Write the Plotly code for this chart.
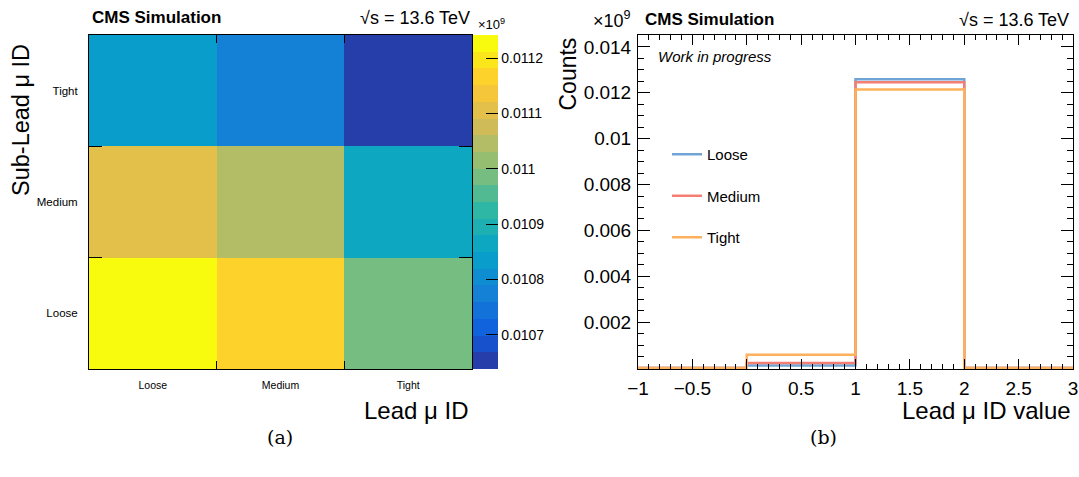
import numpy as np
import plotly.graph_objects as go

# ---------------- data ----------------
id_labels = ["Loose", "Medium", "Tight"]
# 2D map (values shown in units of 1e9 counts); rows = sub-lead ID, columns = lead ID
sublead_loose = [0.011242, 0.011167, 0.010985]
sublead_medium = [0.011106, 0.011046, 0.010865]
sublead_tight = [0.010834, 0.010774, 0.010638]
z_min = 0.010638
z_max = 0.011242
cbar_ticks = [0.0107, 0.0108, 0.0109, 0.011, 0.0111, 0.0112]
cbar_labels = ["0.0107", "0.0108", "0.0109", "0.011", "0.0111", "0.0112"]

# 1D histograms of lead muon ID value (units of 1e9 counts)
bin_edges = [-1, 0, 1, 2, 3]
counts_loose = [0.0, 0.00011, 0.01259, 0.0]
counts_medium = [0.0, 0.00022, 0.01246, 0.0]
counts_tight = [0.0, 0.00058, 0.01214, 0.0]
count_ticks = [0.002, 0.004, 0.006, 0.008, 0.01, 0.012, 0.014]
count_labels = ["0.002", "0.004", "0.006", "0.008", "0.01", "0.012", "0.014"]
y_max = 0.01452

series_names = ["Loose", "Medium", "Tight"]
series_colors = ["#6ea5d5", "#f47e73", "#fdb15c"]

# ---------------- helpers ----------------
W, H = 1079, 477
def px(x):
    return x / W
def py(y):
    return 1 - y / H

# ROOT kBird palette, 20 contour bands
st = [0.0, 0.125, 0.25, 0.375, 0.5, 0.625, 0.75, 0.875, 1.0]
rr = [0.2082, 0.0592, 0.0780, 0.0232, 0.1802, 0.5301, 0.8186, 0.9956, 0.9764]
gg = [0.1664, 0.3599, 0.5041, 0.6419, 0.7178, 0.7492, 0.7328, 0.7862, 0.9832]
bb = [0.5293, 0.8684, 0.8385, 0.7914, 0.6425, 0.4662, 0.3499, 0.1968, 0.0539]
def bird(t):
    return "rgb(%d,%d,%d)" % (round(255 * np.interp(t, st, rr)),
                              round(255 * np.interp(t, st, gg)),
                              round(255 * np.interp(t, st, bb)))
nb = 20
cscale = []
for i in range(nb):
    c = bird(min(1.0, (i + 0.99) / nb))
    cscale.append([i / nb, c])
    cscale.append([(i + 1) / nb, c])

FONT = "Liberation Sans, Arial, Helvetica, sans-serif"
SERIF = "DejaVu Serif, Liberation Serif, serif"

fig = go.Figure()

fig.add_trace(go.Heatmap(
    x=id_labels, y=id_labels,
    z=[sublead_loose, sublead_medium, sublead_tight],
    zmin=z_min, zmax=z_max, colorscale=cscale,
    xaxis="x", yaxis="y", showscale=True,
    colorbar=dict(
        x=px(473), xanchor="left", y=py(202), yanchor="middle",
        thickness=25, thicknessmode="pixels",
        len=334, lenmode="pixels", xpad=0, ypad=0,
        outlinewidth=0, ticks="inside", ticklen=12, tickcolor="black",
        tickmode="array", tickvals=cbar_ticks, ticktext=cbar_labels,
        tickfont=dict(family=FONT, size=14, color="black"),
    ),
    hoverinfo="skip",
))

for name, col, vals in zip(series_names, series_colors,
                           [counts_loose, counts_medium, counts_tight]):
    fig.add_trace(go.Scatter(
        x=bin_edges, y=list(vals) + [vals[-1]],
        mode="lines", line=dict(color=col, width=2.5, shape="hv"),
        name=name, legendgroup=name, xaxis="x2", yaxis="y2",
    ))

axis_common = dict(showline=True, linecolor="black", linewidth=1,
                   mirror="allticks", ticks="inside", tickcolor="black",
                   showgrid=False, zeroline=False, automargin=False)

fig.update_layout(
    width=W, height=H, margin=dict(l=0, r=0, t=0, b=0, autoexpand=False),
    paper_bgcolor="white", plot_bgcolor="white",
    font=dict(family=FONT, color="black"),
    xaxis=dict(axis_common, domain=[px(89), px(472)], type="category",
               tickson="boundaries", ticklen=8, anchor="y",
               tickfont=dict(size=10.5), ticklabelstandoff=6),
    yaxis=dict(axis_common, domain=[py(369), py(35)], type="category",
               tickson="boundaries", ticklen=13, anchor="x",
               tickfont=dict(size=11.5), ticklabelstandoff=8),
    xaxis2=dict(axis_common, domain=[px(638), px(1073)], anchor="y2",
                range=[-1, 3], dtick=0.5, tick0=0, ticklen=10,
                tickfont=dict(size=19), ticklabelstandoff=2,
                minor=dict(dtick=0.1, tick0=0, ticklen=5, ticks="inside",
                           tickcolor="black", showgrid=False)),
    yaxis2=dict(axis_common, domain=[py(369), py(35)], anchor="x2",
                range=[-0.00004, y_max], tickmode="array", tickvals=count_ticks,
                ticktext=count_labels, ticklen=12,
                tickfont=dict(size=19), ticklabelstandoff=2,
                minor=dict(dtick=0.0005, tick0=0, ticklen=6, ticks="inside",
                           tickcolor="black", showgrid=False)),
    showlegend=True,
    legend=dict(x=px(667), y=py(138), xanchor="left", yanchor="top",
                bgcolor="rgba(0,0,0,0)", font=dict(size=15),
                tracegroupgap=19, itemwidth=30),
)

ann = []
def text(x, y, s, size, xanchor="left", yanchor="middle", angle=0, family=FONT):
    ann.append(dict(x=px(x), y=py(y), xref="paper", yref="paper", text=s,
                    showarrow=False, xanchor=xanchor, yanchor=yanchor,
                    textangle=angle, font=dict(size=size, family=family, color="black")))

text(90, 18, "<b>CMS Simulation</b>", 17)
text(472, 18, "√s = 13.6 TeV", 18, xanchor="right")
text(643, 20, "<b>CMS Simulation</b>", 17)
text(1071, 20, "√s = 13.6 TeV", 18, xanchor="right")
text(476, 24, "×10<sup>9</sup>", 13)
text(591, 20, "×10<sup>9</sup>", 18)
text(656, 56, "<i>Work in progress</i>", 15)
text(21, 42, "Sub-Lead μ ID", 23.5, xanchor="center", yanchor="top", angle=-90)
text(471, 410, "Lead μ ID", 24, xanchor="right")
text(567, 36, "Counts", 23, xanchor="center", yanchor="top", angle=-90)
text(1073, 410, "Lead μ ID value", 24, xanchor="right")
text(280, 437, "(a)", 19, xanchor="center", family=SERIF)
text(823, 437, "(b)", 19, xanchor="center", family=SERIF)
fig.update_layout(annotations=ann)

fig.write_html("out.html")
